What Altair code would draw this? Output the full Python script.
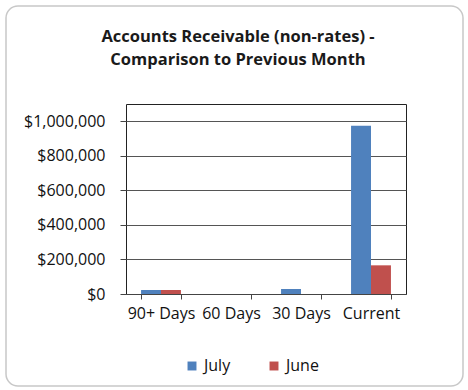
import altair as alt
import pandas as pd

categories = ["90+ Days", "60 Days", "30 Days", "Current"]
july = [23000, 0, 29000, 974000]
june = [23000, 0, 0, 166000]
series = ["July", "June"]
colors = ["#4F81BD", "#C0504D"]
y_ticks = [0, 200000, 400000, 600000, 800000, 1000000]
title_lines = ["Accounts Receivable (non-rates) -", "Comparison to Previous Month"]

rows = []
for c, a, b in zip(categories, july, june):
    rows.append({"Category": c, "Month": "July", "Value": a})
    rows.append({"Category": c, "Month": "June", "Value": b})
df = pd.DataFrame(rows)

FONT = "Open Sans"

bars = alt.Chart(df).mark_bar().encode(
    x=alt.X("Category:N", sort=categories,
            scale=alt.Scale(paddingInner=0.43, paddingOuter=0.215),
            axis=alt.Axis(title=None, labelAngle=0, labelFontSize=16, labelFont=FONT,
                          labelColor="#111", tickBand="extent", tickSize=5,
                          tickColor="#444", domainColor="#444", labelPadding=6,
                          labelOverlap=False, grid=False)),
    xOffset=alt.XOffset("Month:N", sort=series, scale=alt.Scale(paddingInner=0, paddingOuter=0)),
    y=alt.Y("Value:Q", scale=alt.Scale(domain=[0, 1100000], nice=False),
            axis=alt.Axis(title=None, values=y_ticks, format="$,.0f", labelFontSize=16,
                          labelFont=FONT, labelColor="#111", tickSize=6, tickColor="#444",
                          domain=False, gridColor="#555", gridWidth=1, labelPadding=15)),
    color=alt.Color("Month:N", sort=series,
                    scale=alt.Scale(domain=series, range=colors),
                    legend=alt.Legend(title=None, orient="none", legendX=58, legendY=254,
                                      direction="horizontal", symbolType="square",
                                      symbolSize=80, symbolStrokeWidth=0,
                                      labelFontSize=16, labelFont=FONT, labelColor="#111",
                                      labelOffset=4, columnPadding=35)),
)

frame = alt.Chart(pd.DataFrame({"k": [0]})).mark_rect(
    fill=None, stroke="#c8c8c8", strokeWidth=1.5, cornerRadius=12
).encode(x=alt.value(-120), x2=alt.value(337), y=alt.value(-98), y2=alt.value(282))

t1 = alt.Chart(pd.DataFrame({"t": [title_lines[0]]})).mark_text(
    font=FONT, fontSize=16.5, fontWeight="bold", color="#1a1a1a", align="center", baseline="middle"
).encode(text="t:N", x=alt.value(112), y=alt.value(-67))
t2 = alt.Chart(pd.DataFrame({"t": [title_lines[1]]})).mark_text(
    font=FONT, fontSize=16.5, fontWeight="bold", color="#1a1a1a", align="center", baseline="middle"
).encode(text="t:N", x=alt.value(112), y=alt.value(-44))

chart = alt.layer(frame, bars, t1, t2).properties(
    width=280, height=190,
    autosize=alt.AutoSizeParams(type="none"),
    padding={"left": 126, "top": 104, "right": 62, "bottom": 96},
    background="white",
).configure_view(stroke="#222", strokeWidth=1)

chart.save("out.html", embed_options={"renderer": "svg", "actions": False})
